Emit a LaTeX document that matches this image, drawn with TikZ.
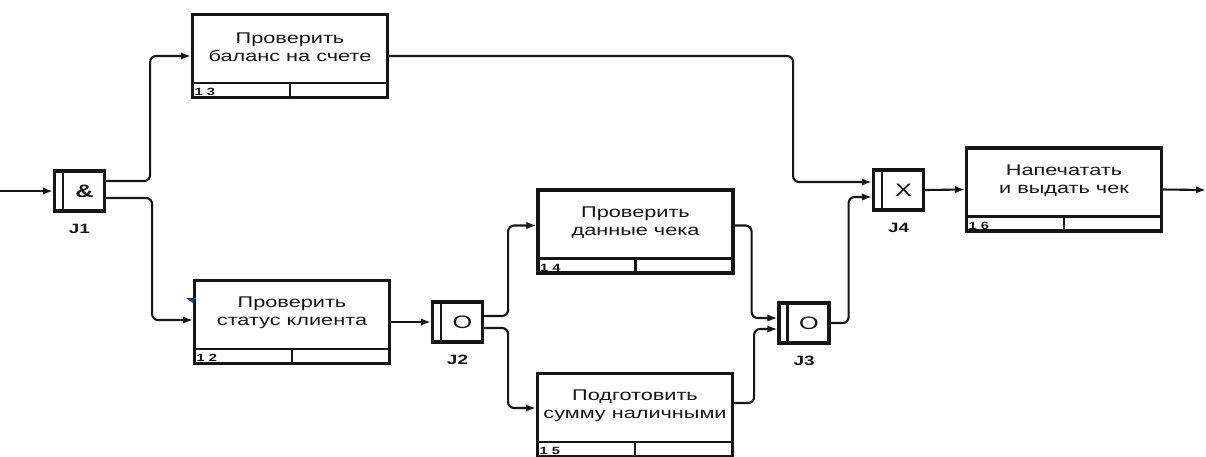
\documentclass[tikz,border=0pt]{standalone}
\usepackage{fontspec}
\setmainfont{Liberation Sans}[FakeStretch=1.4]
\usetikzlibrary{arrows.meta,calc}
\definecolor{ink}{HTML}{151515}
\definecolor{navymark}{HTML}{1F3A6E}
\begin{document}
\begin{tikzpicture}[x=1pt,y=-1pt,
  ubox/.style={draw=ink, line width=3.2pt, minimum width=195pt, minimum height=83pt, inner sep=0pt},
  gate/.style={draw=ink, line width=3.2pt, minimum width=50pt, minimum height=40pt, inner sep=0pt},
  btext/.style={font=\fontsize{15.5}{17.5}\selectfont, align=center, text=ink, inner sep=0pt},
  num/.style={font=\fontsize{10.5}{10.5}\selectfont\bfseries, text=ink, inner sep=0pt, anchor=south west},
  gsym/.style={font=\fontsize{18}{18}\selectfont, text=ink, inner sep=0pt},
  glabel/.style={font=\fontsize{13.5}{13.5}\selectfont\bfseries, text=ink, inner sep=0pt},
  strip/.style={draw=ink, line width=2.4pt},
  conn/.style={draw=ink, line width=2.1pt, rounded corners=6pt, -{Latex[length=10pt,width=7.5pt]}}
]
\useasboundingbox (0,0) rectangle (1206,456);

% activity boxes
\node[ubox] (b13) at (290,56) {};
\node[ubox] (b12) at (292,322) {};
\node[ubox] (b14) at (635.5,231.5) {};
\node[ubox] (b15) at (635,415) {};
\node[ubox] (b16) at (1064,189.5) {};

\foreach \b/\n in {b13/1 3, b12/1 2, b14/1 4, b15/1 5, b16/1 6}{
  \draw[strip] ([yshift=16pt]\b.south west) -- ([yshift=16pt]\b.south east)
               (\b.south) -- ([yshift=16pt]\b.south);
  \node[num] (n\b) at ([xshift=3.5pt,yshift=3pt]\b.south west) {\n};
}

\node[btext] (t13) at ($(b13.center)+(0,-9)$) {Проверить\\баланс на счете};
\node[btext] (t12) at ($(b12.center)+(0,-9)$) {Проверить\\статус клиента};
\node[btext] (t14) at ($(b14.center)+(0,-9)$) {Проверить\\данные чека};
\node[btext] (t15) at ($(b15.center)+(0,-9)$) {Подготовить\\сумму наличными};
\node[btext] (t16) at ($(b16.center)+(0,-9)$) {Напечатать\\и выдать чек};

% junctions
\node[gate] (J1) at (79.5,191) {};
\node[gate] (J2) at (457.5,322) {};
\node[gate] (J3) at (804,323) {};
\node[gate] (J4) at (898.5,190) {};
\foreach \j/\s in {J1/{\bfseries\&}, J2/O, J3/O, J4/X}{
  \draw[strip] ([xshift=10pt]\j.north west) -- ([xshift=10pt]\j.south west);
  \node[gsym] (s\j) at ([xshift=5pt]\j.center) {\s};
  \node[glabel] (l\j) at ([yshift=-16pt]\j.south) {\j};
}

% small mark
\fill[navymark] (186,298) -- (196,298) -- (193,303) -- cycle;

% connectors
\coordinate (in) at (0,191);
\coordinate (out) at (1206,190);
\draw[conn] (in) -- (J1.west);
\draw[conn] ([yshift=10pt]J1.east) -- ++(44,0) |- (b13.west);
\draw[conn] ([yshift=-7pt]J1.east) -- ++(46,0) |- ([yshift=2pt]b12.west);
\draw[conn] (b12.east) -- (J2.west);
\draw[conn] ([yshift=6pt]J2.east) -- ++(24,0) |- ([yshift=6pt]b14.west);
\draw[conn] ([yshift=-6pt]J2.east) -- ++(24,0) |- ([yshift=7pt]b15.west);
\draw[conn] ([yshift=6pt]b14.east) -- ++(17,0) |- ([yshift=5pt]J3.west);
\draw[conn] ([yshift=12pt]b15.east) -- ++(20,0) |- ([yshift=-6pt]J3.west);
\draw[conn] (J3.east) -- ++(18,0) |- ([yshift=-7pt]J4.west);
\draw[conn] (b13.east) -- ++(404,0) |- ([yshift=8pt]J4.west);
\draw[conn] (J4.east) -- (b16.west);
\draw[conn] (b16.east) -- (out);
\end{tikzpicture}
\end{document}
